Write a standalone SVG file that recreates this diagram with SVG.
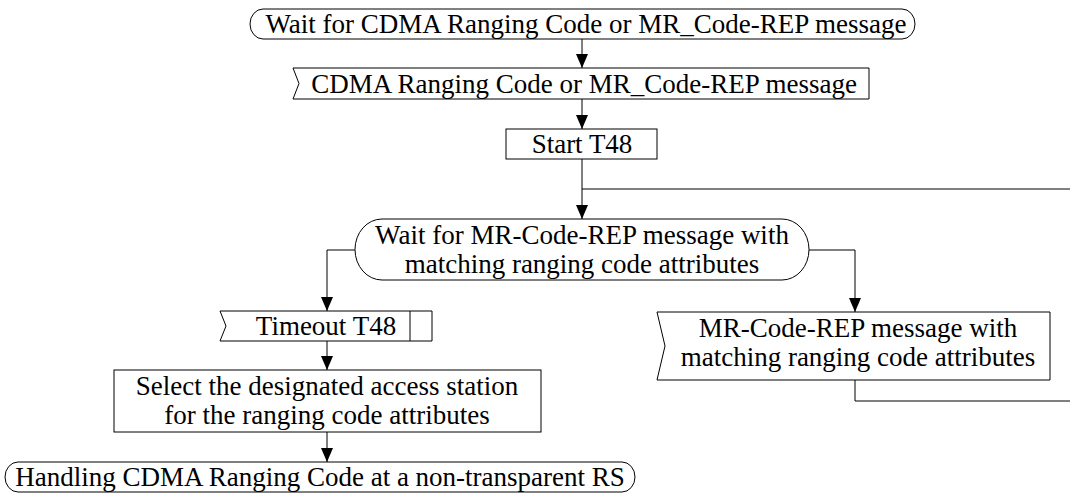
<svg xmlns="http://www.w3.org/2000/svg" width="1070" height="493" viewBox="0 0 1070 493">
<style>
.s{fill:#fff;stroke:#000;stroke-width:1}
.t{font-family:"Liberation Serif","Times New Roman",serif;font-size:27px;fill:#000;text-anchor:middle}
.c{fill:none;stroke:#000;stroke-width:1}
</style>
<defs>
<marker id="ah" viewBox="0 0 14 12" refX="14" refY="6" markerWidth="14" markerHeight="12" markerUnits="userSpaceOnUse" orient="auto">
<path d="M0,0 L14,6 L0,12 z" fill="#000"/>
</marker>
</defs>
<rect width="1070" height="493" fill="#fff"/>
<g id="connectors">
<path class="c" d="M582,39 V68" marker-end="url(#ah)"/>
<path class="c" d="M582,99 V129" marker-end="url(#ah)"/>
<path class="c" d="M582,159 V219" marker-end="url(#ah)"/>
<path class="c" d="M582,189 H1070"/>
<path class="c" d="M355,250 H327 V311" marker-end="url(#ah)"/>
<path class="c" d="M809,250 H855 V312" marker-end="url(#ah)"/>
<path class="c" d="M327,341 V370" marker-end="url(#ah)"/>
<path class="c" d="M327,432 V462" marker-end="url(#ah)"/>
<path class="c" d="M855,380 V401 H1070"/>
</g>
<g id="n1">
<rect class="s" x="250" y="9" width="665" height="30" rx="13" ry="15"/>
<text class="t" x="586" y="33">Wait for CDMA Ranging Code or MR_Code-REP message</text>
</g>
<g id="n2">
<path class="s" d="M293,68 H869 V99 H293 L299,83.5 Z"/>
<text class="t" x="584" y="93">CDMA Ranging Code or MR_Code-REP message</text>
</g>
<g id="n3">
<rect class="s" x="506" y="129" width="151" height="30"/>
<text class="t" x="582" y="153">Start T48</text>
</g>
<g id="n4">
<rect class="s" x="355" y="219" width="454" height="61" rx="27" ry="30.5"/>
<text class="t" x="582" y="244">Wait for MR-Code-REP message with</text>
<text class="t" x="582" y="273">matching ranging code attributes</text>
</g>
<g id="n5">
<path class="s" d="M220,311 H432 V341 H220 L226,326 Z"/>
<line class="c" x1="410" y1="311" x2="410" y2="341"/>
<text class="t" x="326" y="335">Timeout T48</text>
</g>
<g id="n6">
<path class="s" d="M657,312 H1050 V380 H657 L665,346 Z"/>
<text class="t" x="858" y="337">MR-Code-REP message with</text>
<text class="t" x="858" y="366">matching ranging code attributes</text>
</g>
<g id="n7">
<rect class="s" x="114" y="370" width="427" height="62"/>
<text class="t" x="327" y="395">Select the designated access station</text>
<text class="t" x="327" y="424">for the ranging code attributes</text>
</g>
<g id="n8">
<rect class="s" x="5" y="462" width="630" height="30" rx="13" ry="15"/>
<text class="t" x="320" y="486">Handling CDMA Ranging Code at a non-transparent RS</text>
</g>
</svg>
